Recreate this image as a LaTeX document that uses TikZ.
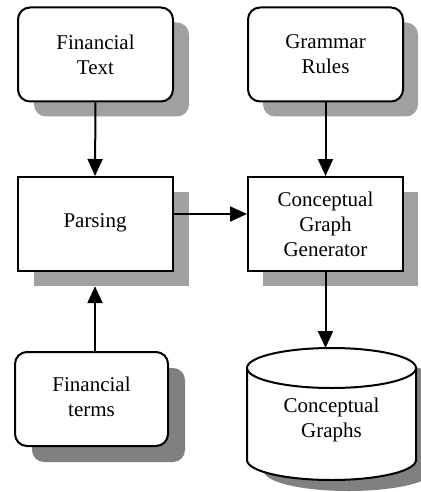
\documentclass[tikz,border=0pt]{standalone}
\usepackage{fontspec}
\setmainfont{Liberation Serif}
\usetikzlibrary{arrows.meta}
\definecolor{shlight}{HTML}{A0A0A0}
\definecolor{shdark}{HTML}{808080}
\begin{document}
\begin{tikzpicture}[x=1pt,y=-1pt,
  box/.style={draw, line width=2pt, fill=white, minimum width=155pt, minimum height=94pt,
    align=center, inner sep=0pt, font=\rmfamily\fontsize{21}{25}\selectfont},
  rbox/.style={box, rounded corners=12pt},
  shadebox/.style={fill=shlight, draw=none, minimum width=155pt, minimum height=94pt, inner sep=0pt},
  rshadebox/.style={shadebox, rounded corners=12pt},
  arr/.style={line width=2pt, -{Triangle[width=15pt,length=17pt]}},
  lbl/.style={align=center, inner sep=0pt, font=\rmfamily\fontsize{21}{25}\selectfont}]
\useasboundingbox (0,0) rectangle (420,492);
% shadows
\node[rshadebox] (ftextS) at (111.5,69.5) {};
\node[shadebox] (parsingS) at (111,239) {};
\node[rshadebox, fill=shdark, minimum width=153pt] (termsS) at (108.5,415) {};
\node[rshadebox] (grammarS) at (340.5,69.5) {};
\node[shadebox] (cggS) at (340.5,239) {};
\fill[shdark] (264,379) -- (264,471) arc (180:360:84.5pt and 20pt) -- (433,379) arc (0:180:84.5pt and 20pt) -- cycle;
% boxes
\node[rbox] (ftext) at (95.5,54.5) {Financial\\Text};
\node[box] (parsing) at (95,224) {\raisebox{6pt}{Parsing}};
\node[rbox, minimum width=153pt] (terms) at (91.5,399) {\raisebox{6pt}{\begin{tabular}{@{}c@{}}Financial\\terms\end{tabular}}};
\node[rbox] (grammar) at (325.5,54.5) {Grammar\\Rules};
\node[box] (cgg) at (325.5,224) {Conceptual\\Graph\\Generator};
% cylinder
\filldraw[fill=white, line width=2pt] (247,368) -- (247,460) arc (180:360:84.5pt and 20pt) -- (416,368) arc (0:180:84.5pt and 20pt) -- cycle;
\draw[line width=2pt] (247,368) arc (180:360:84.5pt and 20pt);
\coordinate (cgtop) at (331.5,348);
\node[lbl] (cg) at (331.5,420) {Conceptual\\Graphs};
% arrows
\draw[arr] (ftext.south) -- (parsing.north);
\draw[arr] (terms.north -| parsing.south) -- (parsing.south |- parsingS.south);
\draw[arr] (grammar.south) -- (cgg.north);
\draw[arr] ([yshift=10pt]parsing.east) -- ([yshift=10pt]cgg.west);
\draw[arr] (cgg.south) -- (cgg.south |- cgtop);
\end{tikzpicture}
\end{document}
